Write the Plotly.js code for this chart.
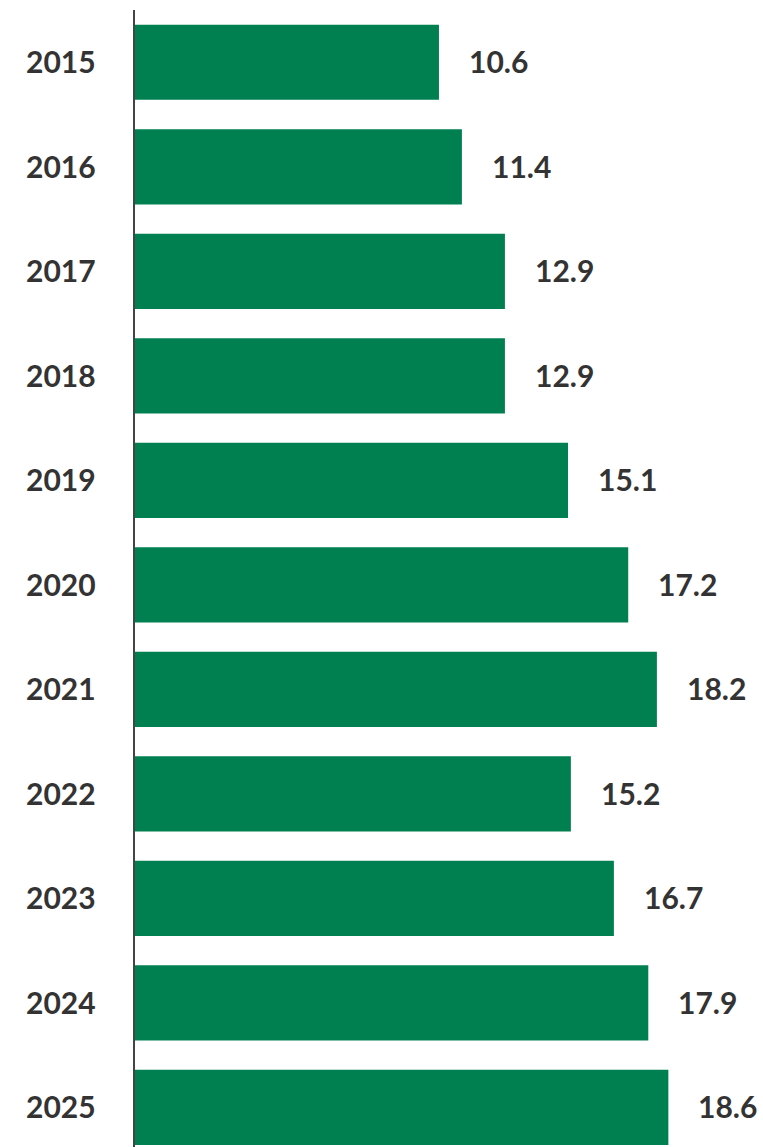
<!DOCTYPE html>
<html>
<head>
<meta charset="utf-8">
<script src="https://cdn.plot.ly/plotly-3.0.1.min.js"></script>
<style>html,body{margin:0;padding:0;background:#fff;}#chart{width:763px;height:1147px;}</style>
</head>
<body>
<div id="chart"></div>
<script>
const years = ["2015","2016","2017","2018","2019","2020","2021","2022","2023","2024","2025"];
const values = [10.6, 11.4, 12.9, 12.9, 15.1, 17.2, 18.2, 15.2, 16.7, 17.9, 18.6];
const valueLabels = ["10.6","11.4","12.9","12.9","15.1","17.2","18.2","15.2","16.7","17.9","18.6"];

const barColor = "#007F50";
const textColor = "#333333";
const fontFamily = "Lato, Liberation Sans, Arial, sans-serif";

const valueAnnotations = years.map((y, i) => ({
  x: values[i], y: i, xref: "x", yref: "y",
  text: "<b>" + valueLabels[i] + "</b>",
  showarrow: false, xanchor: "left", yanchor: "middle", xshift: 28, yshift: 1,
  font: {family: fontFamily, size: 30, color: textColor}
}));
const yearAnnotations = years.map((y, i) => ({
  x: -0.176, y: i, xref: "paper", yref: "y",
  text: "<b>" + y + "</b>",
  showarrow: false, xanchor: "left", yanchor: "middle", yshift: 1,
  font: {family: fontFamily, size: 30, color: textColor}
}));

const trace = {
  type: "bar", orientation: "h",
  x: values, y: years,
  marker: {color: barColor},
  hoverinfo: "none"
};

const layout = {
  width: 763, height: 1147,
  margin: {l: 135, r: 0, t: 10, b: 0},
  paper_bgcolor: "#ffffff", plot_bgcolor: "#ffffff",
  bargap: 0.28,
  showlegend: false,
  xaxis: {range: [0, 21.9], showgrid: false, zeroline: false, showticklabels: false, showline: false},
  yaxis: {type: "category", range: [10.38, -0.5], showgrid: false, zeroline: false, showticklabels: false,
          showline: true, linecolor: "#444444", linewidth: 2},
  annotations: valueAnnotations.concat(yearAnnotations)
};

Plotly.newPlot("chart", [trace], layout, {displayModeBar: false});
</script>
</body>
</html>
